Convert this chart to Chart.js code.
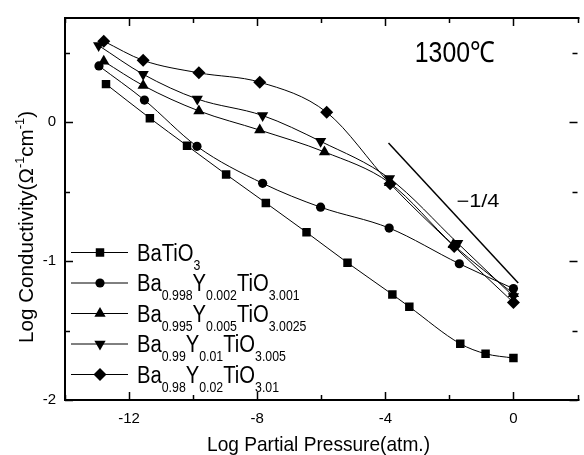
<!DOCTYPE html>
<html>
<head>
<meta charset="utf-8">
<script src="https://cdn.jsdelivr.net/npm/chart.js@4.4.1/dist/chart.umd.min.js"></script>
<style>
  html, body { margin: 0; padding: 0; background: #fff; }
</style>
</head>
<body>
<canvas id="condChart" width="584" height="455"></canvas>
<script>
// values
const xBaTiO3 = [-12.72, -11.35, -10.19, -8.97, -7.73, -6.46, -5.18, -3.78, -3.25, -1.66, -0.87, 0];
const yBaTiO3 = [0.274, 0.029, -0.169, -0.376, -0.581, -0.793, -1.012, -1.240, -1.329, -1.595, -1.667, -1.698];

const xY002 = [-12.94, -11.52, -9.88, -7.83, -6.02, -3.88, -1.69, 0];
const yY002 = [0.405, 0.159, -0.174, -0.440, -0.612, -0.762, -1.019, -1.198];

const xY005 = [-12.79, -11.56, -9.82, -7.92, -5.90, -3.87, -1.88, 0];
const yY005 = [0.438, 0.264, 0.081, -0.057, -0.214, -0.436, -0.883, -1.235];

const xY01 = [-12.95, -11.56, -9.87, -7.83, -6.02, -3.87, -1.74, 0];
const yY01 = [0.552, 0.345, 0.167, 0.048, -0.138, -0.405, -0.871, -1.255];

const xY02 = [-12.79, -11.56, -9.82, -7.92, -5.83, -3.85, -1.85, 0];
const yY02 = [0.583, 0.445, 0.355, 0.288, 0.071, -0.443, -0.895, -1.298];

// the -1/4 guide line
const xSlope = [-3.9, 0.15];
const ySlope = [-0.15, -1.157];

const xTickLabels = [-12, -8, -4, 0];
const yTickLabels = [-2, -1, 0];

// legend names: even parts normal, odd parts subscript
const legendNames = [
    ['BaTiO', '3'],
    ['Ba', '0.998', 'Y', '0.002', 'TiO', '3.001'],
    ['Ba', '0.995', 'Y', '0.005', 'TiO', '3.0025'],
    ['Ba', '0.99', 'Y', '0.01', 'TiO', '3.005'],
    ['Ba', '0.98', 'Y', '0.02', 'TiO', '3.01']
];

const markers = [
    { pointStyle: 'rect', radius: 6, rotation: 0 },
    { pointStyle: 'circle', radius: 4.6, rotation: 0 },
    { pointStyle: 'triangle', radius: 6.5, rotation: 0 },
    { pointStyle: 'triangle', radius: 6.5, rotation: 180 },
    { pointStyle: 'rectRot', radius: 6.5, rotation: 0 }
];

const FONT = '"Liberation Sans", Arial, sans-serif';

function toPoints(xs, ys) {
    return xs.map((x, i) => ({ x: x, y: ys[i] }));
}

function seriesDataset(xs, ys, m) {
    return {
        data: toPoints(xs, ys),
        showLine: true,
        borderColor: '#000',
        borderWidth: 1,
        backgroundColor: '#000',
        pointBackgroundColor: '#000',
        pointBorderWidth: 0,
        pointStyle: m.pointStyle,
        pointRadius: m.radius,
        pointRotation: m.rotation,
        cubicInterpolationMode: 'monotone'
    };
}

// rich text: parts = [{t, size, dy}], drawn left to right, optionally squeezed to width
function drawRich(ctx, parts, x, y, sx, width) {
    ctx.save();
    let total = 0;
    parts.forEach(p => {
        ctx.font = p.size + 'px ' + FONT;
        total += ctx.measureText(p.t).width;
    });
    if (width) sx = width / total;
    ctx.translate(x, y);
    ctx.scale(sx, 1);
    ctx.textBaseline = 'alphabetic';
    ctx.textAlign = 'left';
    ctx.fillStyle = '#000';
    let cx = 0;
    parts.forEach(p => {
        ctx.font = p.size + 'px ' + FONT;
        ctx.fillText(p.t, cx, p.dy || 0);
        cx += ctx.measureText(p.t).width;
    });
    ctx.restore();
}

const framePlugin = {
    id: 'frame',
    afterDraw(chart) {
        const ctx = chart.ctx;
        const a = chart.chartArea;
        const xs = chart.scales.x;
        const ys = chart.scales.y;
        ctx.save();
        ctx.strokeStyle = '#000';
        ctx.lineWidth = 2;
        ctx.beginPath();
        ctx.moveTo(a.right + 2, a.top);
        ctx.lineTo(a.left, a.top);
        ctx.lineTo(a.left, a.bottom);
        ctx.lineTo(a.right + 2, a.bottom);
        ctx.stroke();

        // inward ticks, every 2 on x, every 0.5 on y
        ctx.lineWidth = 1.5;
        ctx.beginPath();
        for (let v = -14; v <= 2; v += 2) {
            const px = Math.round(xs.getPixelForValue(v)) + 0.5;
            const len = (v % 4 === 0) ? 8 : 5;
            ctx.moveTo(px, a.bottom); ctx.lineTo(px, a.bottom - len);
            ctx.moveTo(px, a.top); ctx.lineTo(px, a.top + len);
        }
        for (let v = -2; v <= 0.75; v += 0.5) {
            const py = Math.round(ys.getPixelForValue(v)) + 0.5;
            const len = (v % 1 === 0) ? 8 : 5;
            ctx.moveTo(a.left, py); ctx.lineTo(a.left + len, py);
            ctx.moveTo(a.right, py); ctx.lineTo(a.right - len, py);
        }
        ctx.stroke();

        // axis titles
        drawRich(ctx, [{ t: 'Log Partial Pressure(atm.)', size: 21 }], 207, 451, 1, 223);
        ctx.save();
        ctx.translate(33, 343);
        ctx.rotate(-Math.PI / 2);
        drawRich(ctx, [
            { t: 'Log Conductivity(\u03A9', size: 21 },
            { t: '-1', size: 13, dy: -9 },
            { t: 'cm', size: 21 },
            { t: '-1', size: 13, dy: -9 },
            { t: ')', size: 21 }
        ], 0, 0, 1, 232);
        ctx.restore();

        // annotations placed in data coordinates
        drawRich(ctx, [{ t: '1300\u2103', size: 29 }],
            xs.getPixelForValue(-3.08), ys.getPixelForValue(0.43), 1, 80);
        drawRich(ctx, [{ t: '\u22121/4', size: 18 }],
            xs.getPixelForValue(-1.78), ys.getPixelForValue(-0.61), 1, 43);

        // legend
        const rowY = [252.5, 283, 313.5, 344, 374.5];
        legendNames.forEach((name, i) => {
            const y = rowY[i];
            ctx.lineWidth = 1;
            ctx.strokeStyle = '#000';
            ctx.beginPath();
            ctx.moveTo(a.left + 6, y);
            ctx.lineTo(a.left + 63, y);
            ctx.stroke();
            ctx.fillStyle = '#000';
            Chart.helpers.drawPoint(ctx, {
                pointStyle: markers[i].pointStyle,
                radius: markers[i].radius,
                rotation: markers[i].rotation,
                borderWidth: 0
            }, a.left + 35, y);
            const parts = name.map((t, k) => k % 2 === 0
                ? { t: t, size: 23 }
                : { t: t, size: 14, dy: 9 });
            drawRich(ctx, parts, 137, y + 8, 0.88);
        });
        ctx.restore();
    }
};

const ctx = document.getElementById('condChart');

new Chart(ctx, {
    type: 'scatter',
    data: {
        datasets: [
            seriesDataset(xBaTiO3, yBaTiO3, markers[0]),
            seriesDataset(xY002, yY002, markers[1]),
            seriesDataset(xY005, yY005, markers[2]),
            seriesDataset(xY01, yY01, markers[3]),
            seriesDataset(xY02, yY02, markers[4]),
            {
                data: toPoints(xSlope, ySlope),
                showLine: true,
                borderColor: '#000',
                borderWidth: 1.5,
                pointRadius: 0,
                tension: 0
            }
        ]
    },
    options: {
        responsive: false,
        animation: false,
        layout: { padding: { top: 15, right: 0, left: 0, bottom: 0 } },
        plugins: {
            legend: { display: false },
            tooltip: { enabled: false }
        },
        scales: {
            x: {
                type: 'linear',
                min: -14,
                max: 2,
                grid: { display: false, drawTicks: false },
                border: { display: false },
                afterFit: scale => { scale.height = 55; },
                afterBuildTicks: scale => { scale.ticks = xTickLabels.map(v => ({ value: v })); },
                ticks: {
                    padding: 10,
                    color: '#000',
                    font: { family: FONT, size: 15 }
                }
            },
            y: {
                type: 'linear',
                min: -2,
                max: 0.75,
                grid: { display: false, drawTicks: false },
                border: { display: false },
                afterFit: scale => { scale.width = 65; },
                afterBuildTicks: scale => { scale.ticks = yTickLabels.map(v => ({ value: v })); },
                ticks: {
                    padding: 9,
                    color: '#000',
                    font: { family: FONT, size: 15 }
                }
            }
        }
    },
    plugins: [framePlugin]
});
</script>
</body>
</html>
